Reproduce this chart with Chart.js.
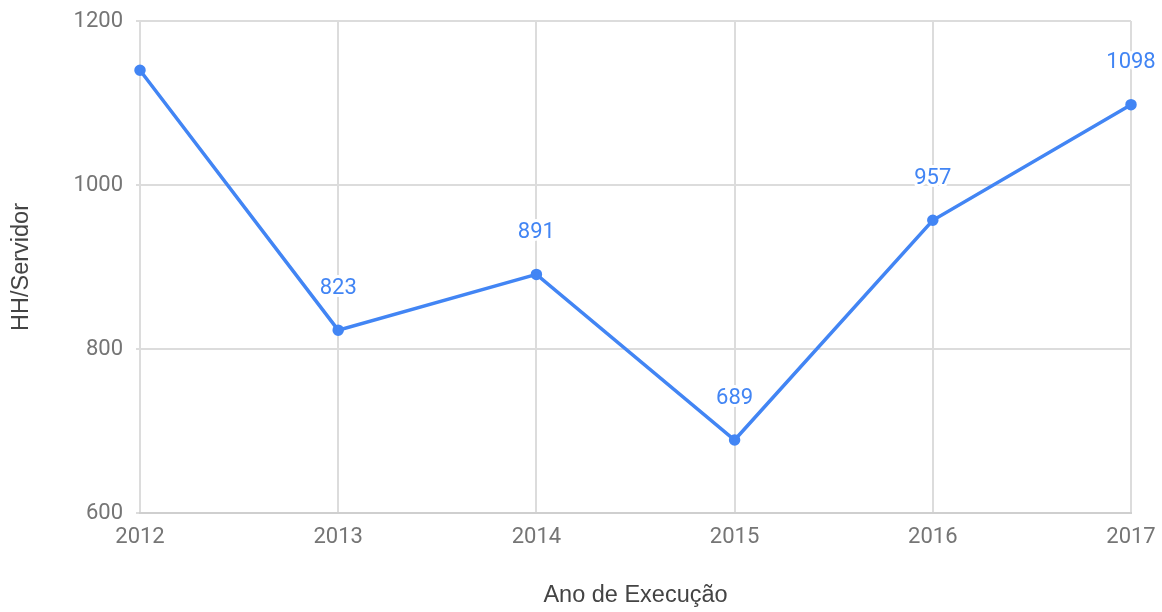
<!DOCTYPE html>
<html>
<head>
<meta charset="utf-8">
<script src="https://cdn.jsdelivr.net/npm/chart.js@4/dist/chart.umd.min.js"></script>
<style>
  html, body { margin: 0; padding: 0; background: #fff; }
  #wrap { width: 1162px; height: 612px; }
</style>
</head>
<body>
<div id="wrap"><canvas id="chart"></canvas></div>
<script>
// ─── Data ───
const years    = ['2012', '2013', '2014', '2015', '2016', '2017'];
const hhValues = [1140, 823, 891, 689, 957, 1098];
// 2012 has no value label in the original
const showLabel = [false, true, true, true, true, true];
const yTicks   = [600, 800, 1000, 1200];

const lineBlue = '#4285f4';
const tickGrey = '#757575';
const gridGrey = '#dcdcdc';

// small inline plugin: value labels above the points, white halo behind
const pointLabels = {
  id: 'pointLabels',
  afterDatasetsDraw(chart) {
    const ctx  = chart.ctx;
    const meta = chart.getDatasetMeta(0);
    ctx.save();
    ctx.font = '22px Roboto';
    ctx.textAlign = 'center';
    ctx.textBaseline = 'middle';
    ctx.lineJoin = 'round';
    meta.data.forEach((pt, i) => {
      if (!showLabel[i]) return;
      const txt = String(hhValues[i]);
      const y = pt.y - 42;
      ctx.strokeStyle = '#fff';
      ctx.lineWidth = 6;
      ctx.strokeText(txt, pt.x, y);
      ctx.fillStyle = lineBlue;
      ctx.fillText(txt, pt.x, y);
    });
    ctx.restore();
  }
};

new Chart(document.getElementById('chart'), {
  type: 'line',
  data: {
    labels: years,
    datasets: [{
      data: hhValues,
      borderColor: lineBlue,
      backgroundColor: lineBlue,
      borderWidth: 3.5,
      pointRadius: 4,
      pointHoverRadius: 4,
      tension: 0,
      clip: false
    }]
  },
  options: {
    responsive: true,
    maintainAspectRatio: false,
    animation: false,
    layout: { padding: { top: 21, right: 31, left: 0, bottom: 0 } },
    plugins: { legend: { display: false }, tooltip: { enabled: false } },
    scales: {
      x: {
        offset: false,
        grid: { color: gridGrey, lineWidth: 2, drawTicks: false },
        border: { color: '#cfcfcf', width: 2 },
        ticks: { color: tickGrey, font: { family: 'Roboto', size: 22 }, padding: 11, maxRotation: 0 },
        title: {
          display: true, text: 'Ano de Execução', color: '#444',
          font: { family: 'Liberation Sans', size: 23.5 }, padding: { top: 2, bottom: 2 }
        },
        afterFit(scale) {
          scale.height = 99;
          // let layout padding alone decide the margins
          scale.paddingLeft = 0;
          scale.paddingRight = 0;
        }
      },
      y: {
        min: 600, max: 1200,
        grid: { color: gridGrey, lineWidth: 2, tickLength: 4 },
        border: { display: false },
        afterBuildTicks(scale) { scale.ticks = yTicks.map(v => ({ value: v })); },
        ticks: {
          color: tickGrey, font: { family: 'Roboto', size: 22 }, padding: 13,
          callback: v => String(v)
        },
        title: {
          display: true, text: 'HH/Servidor', color: '#444',
          font: { family: 'Liberation Sans', size: 23.5 }, padding: { top: 7, bottom: 7 }
        },
        afterFit(scale) {
          scale.width = 140;
          scale.paddingTop = 0;
          scale.paddingBottom = 0;
        }
      }
    }
  },
  plugins: [pointLabels]
});
</script>
</body>
</html>
